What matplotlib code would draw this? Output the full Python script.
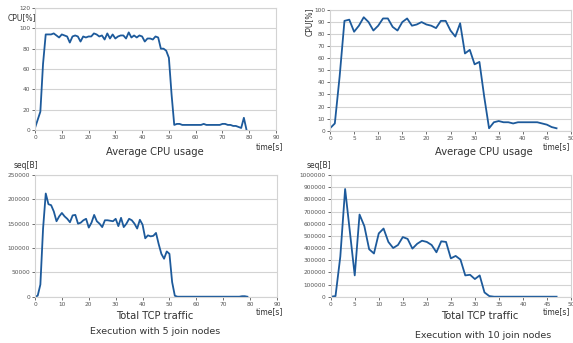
import matplotlib
matplotlib.use("Agg")
import matplotlib.pyplot as plt
from matplotlib.ticker import FuncFormatter

# ---- data ----
cpu5_t = list(range(0, 80))
cpu5 = [2, 10, 18, 65, 94, 94, 94, 95, 93, 91, 94, 93, 92, 86, 92, 93, 92, 87, 92, 91,
        92, 92, 95, 94, 92, 93, 89, 95, 90, 94, 90, 92, 93, 93, 90, 96, 91, 93, 91, 93,
        92, 87, 90, 90, 89, 92, 91, 80, 80, 78, 71, 35, 5, 6, 6, 5, 5, 5, 5, 5,
        5, 5, 5, 6, 5, 5, 5, 5, 5, 5, 6, 6, 5, 5, 4, 4, 3, 2, 12, 0]

cpu10_t = list(range(0, 48))
cpu10 = [2, 6, 45, 91, 92, 82, 87, 94, 90, 83, 87, 93, 93, 86, 83, 90, 93, 87, 88, 90,
         88, 87, 85, 91, 91, 83, 78, 89, 64, 67, 55, 57, 28, 2, 7, 8, 7, 7, 6, 7,
         7, 7, 7, 7, 6, 5, 3, 2]

tcp5_t = list(range(0, 80))
tcp5 = [0, 2000, 25000, 140000, 212000, 190000, 188000, 175000, 155000, 165000,
        172000, 165000, 160000, 153000, 167000, 168000, 150000, 152000, 157000, 160000,
        142000, 152000, 168000, 155000, 150000, 143000, 157000, 157000, 156000, 155000,
        160000, 145000, 162000, 143000, 150000, 160000, 157000, 150000, 140000, 158000,
        148000, 120000, 126000, 124000, 125000, 131000, 108000, 88000, 78000, 93000,
        88000, 30000, 2000, 0, 0, 0, 0, 0, 0, 0,
        0, 0, 0, 0, 0, 0, 0, 0, 0, 0,
        0, 0, 0, 0, 0, 0, 0, 1000, 1000, 0]

tcp10_t = list(range(0, 48))
tcp10 = [0, 5000, 330000, 885000, 530000, 175000, 675000, 580000, 390000, 355000,
         520000, 560000, 450000, 400000, 425000, 490000, 475000, 395000, 435000, 460000,
         450000, 425000, 365000, 455000, 450000, 315000, 335000, 305000, 175000, 180000,
         145000, 175000, 35000, 5000, 0, 0, 0, 0, 0, 0,
         0, 0, 0, 0, 0, 0, 0, 0]

W, H = 573, 343
fig = plt.figure(figsize=(W / 100, H / 100), dpi=100)

LINE = "#1d5a9b"
GRID = "#d3d3d3"
TXT = "#333333"
TICK = "#555555"


def rect(x0, x1, ytop, ybot):
    return [x0 / W, 1 - ybot / H, (x1 - x0) / W, (ybot - ytop) / H]


def style(ax, xmax, xstep, ymax, ystep):
    ax.set_xlim(0, xmax)
    ax.set_ylim(0, ymax)
    ax.set_xticks(range(0, xmax + 1, xstep))
    ax.set_yticks(range(0, ymax + 1, ystep))
    ax.yaxis.set_major_formatter(FuncFormatter(lambda v, p: f"{int(round(v))}"))
    ax.grid(axis="y", color=GRID, lw=0.8)
    ax.set_axisbelow(True)
    for s in ax.spines.values():
        s.set_color(GRID)
        s.set_linewidth(0.8)
    ax.tick_params(axis="both", labelsize=4.2, colors=TICK, length=2, width=0.6, pad=1.5)


ax1 = fig.add_axes(rect(35, 276, 8, 130))
ax1.plot(cpu5_t, cpu5, color=LINE, lw=1.3)
style(ax1, 90, 10, 120, 20)

ax2 = fig.add_axes(rect(330, 571, 10, 130.7))
ax2.plot(cpu10_t, cpu10, color=LINE, lw=1.3)
style(ax2, 50, 5, 100, 10)

ax3 = fig.add_axes(rect(35, 277, 175, 296.7))
ax3.plot(tcp5_t, tcp5, color=LINE, lw=1.3)
style(ax3, 90, 10, 250000, 50000)

ax4 = fig.add_axes(rect(330.7, 571, 175, 296.7))
ax4.plot(tcp10_t, tcp10, color=LINE, lw=1.3)
style(ax4, 50, 5, 1000000, 100000)


def t(x, y, s, size=5.5, **kw):
    fig.text(x / W, 1 - y / H, s, fontsize=size, color=TXT, **kw)


# top-left
t(8, 18, "CPU[%]", ha="left", va="center")
t(256, 147, "time[s]", ha="left", va="center")
t(155, 152, "Average CPU usage", size=7.2, ha="center", va="center")
t(14, 166, "seq[B]", ha="left", va="center")
# top-right
t(309, 22, "CPU[%]", ha="center", va="center", rotation=90)
t(570, 147, "time[s]", ha="right", va="center")
t(484, 152, "Average CPU usage", size=7.2, ha="center", va="center")
t(307, 166, "seq[B]", ha="left", va="center")
# bottom-left
t(155, 316, "Total TCP traffic", size=7.2, ha="center", va="center")
t(256, 312, "time[s]", ha="left", va="center")
t(155, 331, "Execution with 5 join nodes", size=6.8, ha="center", va="center")
# bottom-right
t(480, 316, "Total TCP traffic", size=7.2, ha="center", va="center")
t(570, 312, "time[s]", ha="right", va="center")
t(483, 335, "Execution with 10 join nodes", size=6.8, ha="center", va="center")

fig.savefig("out.png", dpi=100)
